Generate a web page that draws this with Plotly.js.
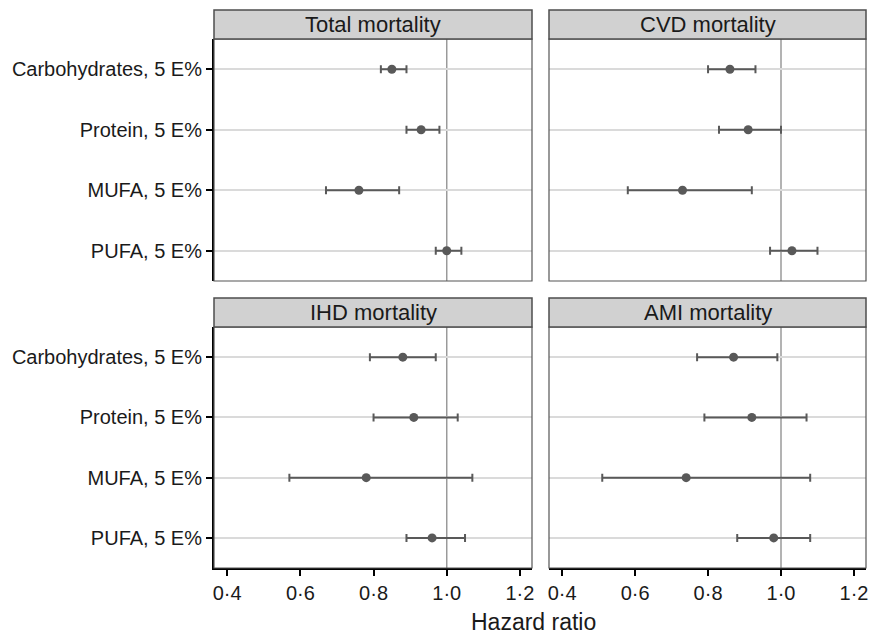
<!DOCTYPE html>
<html>
<head>
<meta charset="utf-8">
<script src="https://cdn.plot.ly/plotly-3.0.1.min.js"></script>
<style>html,body{margin:0;padding:0;background:#fff;}#chart{width:869px;height:635px;}</style>
</head>
<body>
<div id="chart"></div>
<script>
// ---- data ----
const categories = ["Carbohydrates, 5 E%", "Protein, 5 E%", "MUFA, 5 E%", "PUFA, 5 E%"];
const panelTitles = ["Total mortality", "CVD mortality", "IHD mortality", "AMI mortality"];

const totalHR = [0.85, 0.93, 0.76, 1.00];
const totalLo = [0.82, 0.89, 0.67, 0.97];
const totalHi = [0.89, 0.98, 0.87, 1.04];

const cvdHR = [0.86, 0.91, 0.73, 1.03];
const cvdLo = [0.80, 0.83, 0.58, 0.97];
const cvdHi = [0.93, 1.00, 0.92, 1.10];

const ihdHR = [0.88, 0.91, 0.78, 0.96];
const ihdLo = [0.79, 0.80, 0.57, 0.89];
const ihdHi = [0.97, 1.03, 1.07, 1.05];

const amiHR = [0.87, 0.92, 0.74, 0.98];
const amiLo = [0.77, 0.79, 0.51, 0.88];
const amiHi = [0.99, 1.07, 1.08, 1.08];

const xTickVals = [0.4, 0.6, 0.8, 1.0, 1.2];
const xTickText = ["0·4", "0·6", "0·8", "1·0", "1·2"];
const refValue = 1.0;

// ---- build ----
const series = [
  [totalHR, totalLo, totalHi],
  [cvdHR, cvdLo, cvdHi],
  [ihdHR, ihdLo, ihdHi],
  [amiHR, amiLo, amiHi]
];
const axSuffix = ["", "2", "3", "4"];
const markCol = "#595959";
const FONT = "Liberation Sans, Arial, sans-serif";

const traces = series.map((s, i) => ({
  type: "scatter",
  mode: "markers",
  x: s[0],
  y: categories,
  xaxis: "x" + axSuffix[i],
  yaxis: "y" + axSuffix[i],
  marker: {color: markCol, size: 9},
  error_x: {
    type: "data", symmetric: false,
    array: s[0].map((v, j) => s[2][j] - v),
    arrayminus: s[0].map((v, j) => v - s[1][j]),
    color: markCol, thickness: 2, width: 4
  },
  showlegend: false,
  hoverinfo: "x+y"
}));

const W = 869, H = 635;
const mL = 214, mR = 3, mT = 39, mB = 67;
const pw = W - mL - mR, ph = H - mT - mB;
const px = v => (v - mL) / pw;          // pixel -> paper x
const py = v => (H - mB - v) / ph;      // pixel -> paper y

const colDom = [[0, px(532)], [px(549), 1]];
const rowDom = [[py(281), 1], [0, py(327)]];
const xRange = [0.364, 1.233];

const layout = {
  width: W, height: H,
  margin: {l: mL, r: mR, t: mT, b: mB},
  paper_bgcolor: "#fff", plot_bgcolor: "#fff",
  font: {family: FONT, color: "#1a1a1a", size: 20},
  shapes: [], annotations: []
};

for (let i = 0; i < 4; i++) {
  const col = i % 2, row = Math.floor(i / 2);
  const xa = "xaxis" + axSuffix[i], ya = "yaxis" + axSuffix[i];
  const bottom = row === 1, left = col === 0;
  layout[xa] = {
    domain: colDom[col], range: xRange, anchor: "y" + axSuffix[i],
    showgrid: false, zeroline: false,
    tickvals: xTickVals, ticktext: xTickText,
    showticklabels: bottom, ticklabeloverflow: "allow",
    ticks: bottom ? "outside" : "", ticklen: 6, tickwidth: 2, tickcolor: "#000",
    showline: bottom, linecolor: "#000", linewidth: 2,
    tickfont: {size: 20, family: FONT, color: "#1a1a1a"},
    fixedrange: true
  };
  layout[ya] = {
    domain: rowDom[row], anchor: "x" + axSuffix[i],
    type: "category", categoryarray: categories, categoryorder: "array",
    range: [3.5, -0.5],
    showgrid: true, gridcolor: "#dadada", gridwidth: 1.8,
    zeroline: false,
    showticklabels: left,
    ticks: left ? "outside" : "", ticklen: 6, tickwidth: 2, tickcolor: "#000",
    showline: left, linecolor: "#000", linewidth: 2,
    tickfont: {size: 20, family: FONT, color: "#1a1a1a"},
    fixedrange: true
  };
  // reference line
  layout.shapes.push({
    type: "line", xref: "x" + axSuffix[i], yref: "y" + axSuffix[i] + " domain",
    x0: refValue, x1: refValue, y0: 0, y1: 1,
    line: {color: "#9a9a9a", width: 1.5}, layer: "below"
  });
  // panel border
  layout.shapes.push({
    type: "rect", xref: "x" + axSuffix[i] + " domain", yref: "y" + axSuffix[i] + " domain",
    x0: 0, x1: 1, y0: 0, y1: 1,
    line: {color: "#555", width: 1.2}, layer: "above"
  });
  // strip
  const stripBot = rowDom[row][1];
  const stripTop = row === 0 ? py(10) : py(298);
  layout.shapes.push({
    type: "rect", xref: "paper", yref: "paper",
    x0: colDom[col][0], x1: colDom[col][1], y0: stripBot, y1: stripTop,
    fillcolor: "#d1d1d1", line: {color: "#4d4d4d", width: 1.5}, layer: "above"
  });
  layout.annotations.push({
    xref: "paper", yref: "paper",
    x: (colDom[col][0] + colDom[col][1]) / 2, y: (stripBot + stripTop) / 2,
    xanchor: "center", yanchor: "middle", showarrow: false,
    text: panelTitles[i], font: {size: 22, family: FONT, color: "#1a1a1a"}
  });
}

layout.annotations.push({
  xref: "paper", yref: "paper", x: px(533), y: py(622),
  xanchor: "center", yanchor: "middle", showarrow: false,
  text: "Hazard ratio", font: {size: 23, family: FONT, color: "#1a1a1a"}
});

Plotly.newPlot("chart", traces, layout, {displayModeBar: false, staticPlot: true});
</script>
</body>
</html>
